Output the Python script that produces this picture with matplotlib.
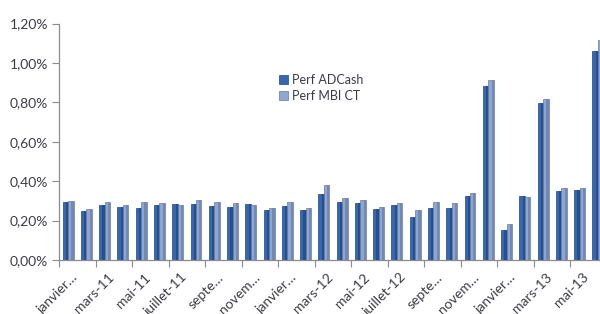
import matplotlib
matplotlib.use("Agg")
import matplotlib.pyplot as plt
from matplotlib.patches import Patch
from matplotlib.transforms import ScaledTranslation
import numpy as np

months = ["janv-11", "févr-11", "mars-11", "avr-11", "mai-11", "juin-11", "juil-11", "août-11",
          "sept-11", "oct-11", "nov-11", "déc-11", "janv-12", "févr-12", "mars-12", "avr-12",
          "mai-12", "juin-12", "juil-12", "août-12", "sept-12", "oct-12", "nov-12", "déc-12",
          "janv-13", "févr-13", "mars-13", "avr-13", "mai-13", "juin-13"]
perf_adcash = [0.293, 0.249, 0.279, 0.271, 0.266, 0.279, 0.284, 0.284, 0.274, 0.269,
               0.284, 0.252, 0.274, 0.252, 0.335, 0.296, 0.288, 0.261, 0.279, 0.217,
               0.266, 0.262, 0.327, 0.882, 0.151, 0.323, 0.796, 0.349, 0.357, 1.060]
perf_mbi = [0.300, 0.261, 0.295, 0.279, 0.295, 0.291, 0.278, 0.305, 0.293, 0.288,
            0.279, 0.266, 0.296, 0.266, 0.379, 0.313, 0.305, 0.269, 0.288, 0.252,
            0.295, 0.288, 0.339, 0.914, 0.181, 0.318, 0.819, 0.364, 0.364, 1.117]
tick_labels = ["janvier…", "mars-11", "mai-11", "juillet-11", "septe…", "novem…",
               "janvier…", "mars-12", "mai-12", "juillet-12", "septe…", "novem…",
               "janvier…", "mars-13", "mai-13"]
yticks = [0.0, 0.2, 0.4, 0.6, 0.8, 1.0, 1.2]

plt.rcParams['font.family'] = ['Lato', 'DejaVu Sans']
txt = '#3C3C46'
axc = '#8C8C8C'

fig = plt.figure(figsize=(6.0, 3.14), dpi=100)
ax = fig.add_axes([59/600, 54/314, 548/600, 236.4/314])

x = np.arange(len(months))
w = 0.30
c1, c1d, c1e = '#3767B0', '#23508F', '#1E467E'
c2, c2d, c2e = '#8FA6D0', '#7389B5', '#66799E'

ax.bar(x - w/2, perf_adcash, width=w, color=c1, edgecolor=c1e, linewidth=0.5, zorder=2)
ax.bar(x - w/2 + w*0.3, perf_adcash, width=w*0.4, color=c1d, linewidth=0, zorder=3)
ax.bar(x + w/2, perf_mbi, width=w, color=c2, edgecolor=c2e, linewidth=0.5, zorder=2)
ax.bar(x + w/2 + w*0.3, perf_mbi, width=w*0.4, color=c2d, linewidth=0, zorder=3)

ax.set_xlim(-0.5, len(months) - 0.5)
ax.set_ylim(0, 1.2)
ax.set_yticks(yticks)
ax.set_yticklabels([f"{v:.2f}%".replace('.', ',') for v in yticks], fontsize=10, color=txt)

ax.set_xticks(x[::2])
ax.set_xticklabels(tick_labels, rotation=45, ha='right', rotation_mode='anchor',
                   fontsize=10, color=txt)
ax.tick_params(axis='x', length=0, pad=8)
off = ScaledTranslation(3/100, 0, fig.dpi_scale_trans)
for lab in ax.get_xticklabels():
    lab.set_transform(lab.get_transform() + off)
ax.set_xticks(np.arange(-0.5, len(months), 2), minor=True)
ax.tick_params(axis='x', which='minor', length=5, color=axc, width=0.8)
ax.tick_params(axis='y', length=5, color=axc, width=0.8, pad=3)

for s in ['top', 'right']:
    ax.spines[s].set_visible(False)
for s in ['left', 'bottom']:
    ax.spines[s].set_color(axc)
    ax.spines[s].set_linewidth(0.9)

handles = [Patch(facecolor=c1, edgecolor=c1e, linewidth=0.5),
           Patch(facecolor=c2, edgecolor=c2e, linewidth=0.5)]
fig.legend(handles, ["Perf ADCash", "Perf MBI CT"], loc='center left',
           bbox_to_anchor=(268/600, 1 - 88/314), frameon=False,
           handlelength=0.7, handleheight=0.7, handletextpad=0.35,
           labelspacing=0.3, fontsize=9, labelcolor=txt)

fig.savefig("out.png", dpi=100)
